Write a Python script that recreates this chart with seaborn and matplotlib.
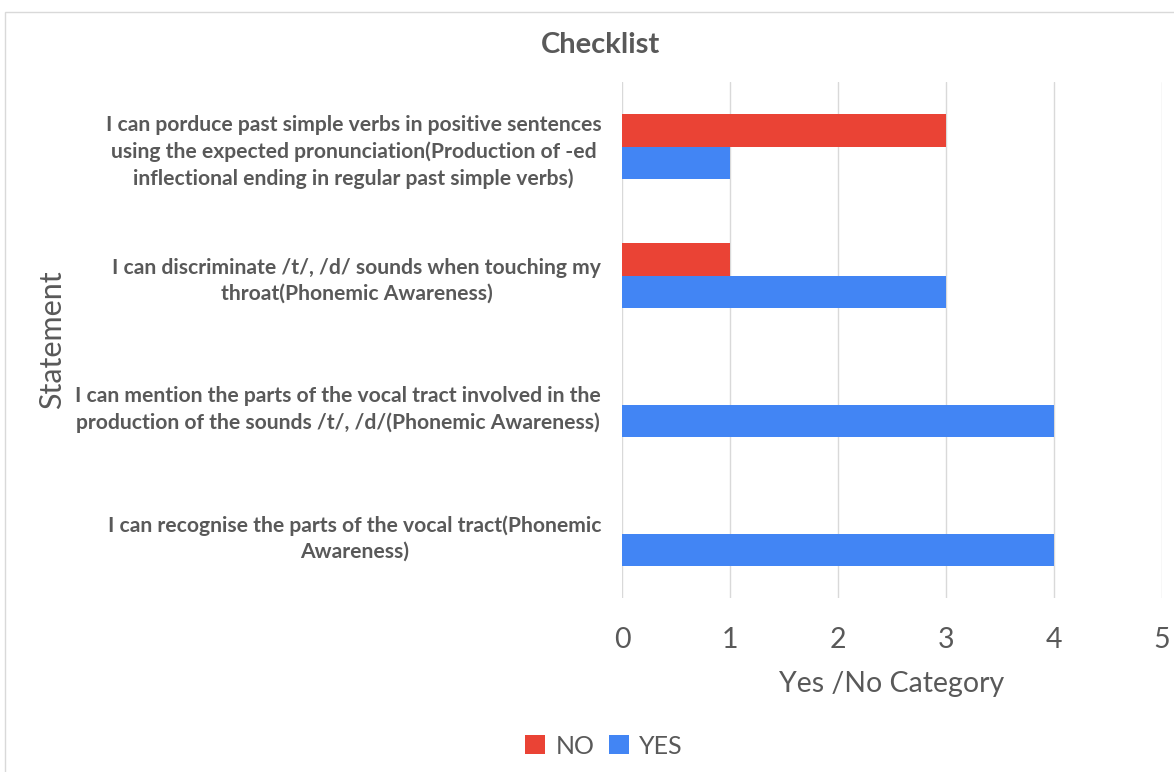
import matplotlib
matplotlib.use("Agg")
import matplotlib.pyplot as plt
import seaborn as sns
import pandas as pd
from matplotlib.patches import Rectangle

statements = [
    "I can porduce past simple verbs in positive sentences\nusing the expected pronunciation(Production of -ed\ninflectional ending in regular past simple verbs)",
    "I can discriminate /t/, /d/ sounds when touching my\nthroat(Phonemic Awareness)",
    "I can mention the parts of the vocal tract involved in the\nproduction of the sounds /t/, /d/(Phonemic Awareness)",
    "I can recognise the parts of the vocal tract(Phonemic\nAwareness)",
]
no_values = [3, 1, 0, 0]
yes_values = [1, 3, 4, 4]
series = ["NO", "YES"]
colors = {"NO": "#EA4335", "YES": "#4285F4"}
xticks = [0, 1, 2, 3, 4, 5]

df = pd.DataFrame({
    "Statement": statements * 2,
    "Value": no_values + yes_values,
    "Series": ["NO"] * len(statements) + ["YES"] * len(statements),
})

sns.set_style("white")
plt.rcParams['font.family'] = ['Lato', 'DejaVu Sans']
text_color = "#595959"

fig = plt.figure(figsize=(11.74, 7.72), dpi=100)
ax = fig.add_axes([622/1174, 1-598/772, 540/1174, 516/772])

sns.barplot(data=df, y="Statement", x="Value", hue="Series", hue_order=series,
            order=statements, palette=colors, orient="h", width=0.51,
            saturation=1, linewidth=0, ax=ax, legend=True)

ax.set_xlim(0, 5)
ax.set_ylim(3.5, -0.5)
ax.set_xticks(xticks)
ax.xaxis.grid(True, color="#d9d9d9", linewidth=1)
ax.yaxis.grid(False)
ax.set_axisbelow(True)
for s in ax.spines.values():
    s.set_visible(False)

ax.tick_params(axis="x", length=0, pad=21, labelsize=20.5, labelcolor=text_color)
ax.tick_params(axis="y", length=0, pad=15, labelcolor=text_color)
for lab in ax.get_yticklabels():
    lab.set_fontweight("bold")
    lab.set_fontsize(15.2)
    lab.set_multialignment("center")
    lab.set_linespacing(1.38)

ax.set_xlabel("Yes /No Category", fontsize=20.5, color=text_color)
ax.set_ylabel("Statement", fontsize=22, color=text_color)
ax.xaxis.set_label_coords(0.5, -0.1415)
ax.yaxis.set_label_coords(-1.03, 0.5)

fig.text(600/1174, 1-45/772, "Checklist", ha="center", va="center",
         fontsize=21, fontweight="bold", color=text_color)

leg = ax.legend(loc="center", bbox_to_anchor=(604/1174, 1-746/772),
                bbox_transform=fig.transFigure, ncol=2, frameon=False,
                handlelength=0.8, handleheight=0.8, handletextpad=0.4,
                columnspacing=0.6, fontsize=18)
for t in leg.get_texts():
    t.set_color(text_color)

fig.patches.append(Rectangle((5/1174, -0.05), 1.2, 1-12/772+0.05,
                             transform=fig.transFigure, fill=False,
                             edgecolor="#d9d9d9", linewidth=1))

fig.savefig("out.png", dpi=100, facecolor="white")
